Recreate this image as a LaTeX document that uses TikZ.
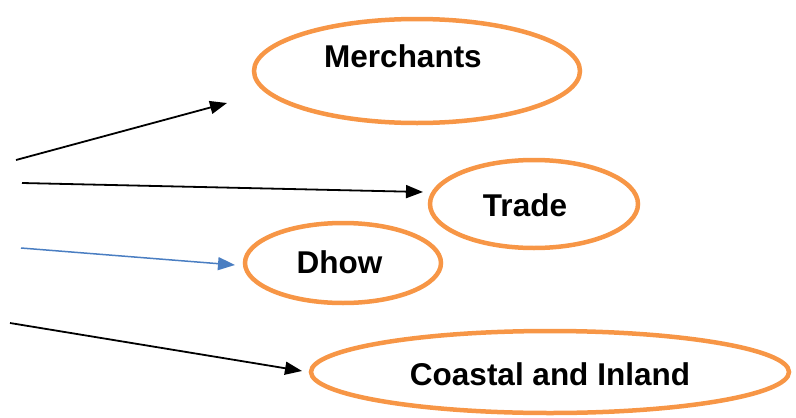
\documentclass[tikz,border=0pt]{standalone}
\usepackage{fontspec}
\setmainfont{Liberation Sans}
\usetikzlibrary{shapes.geometric,arrows.meta}
\definecolor{orng}{HTML}{F79646}
\definecolor{blu}{HTML}{4A7EC2}
\begin{document}
\begin{tikzpicture}[x=1pt,y=-1pt,
  oval/.style={ellipse,draw=orng,line width=4.5pt,inner sep=0pt},
  lbl/.style={font=\fontsize{31.5}{36}\selectfont\bfseries,inner sep=0pt},
  arr/.style={line width=1.8pt,-{Triangle[length=17pt,width=13pt]}},
  barr/.style={line width=1.5pt,draw=blu,-{Triangle[length=17pt,width=13pt,fill=blu]}}]
\useasboundingbox (0,0) rectangle (796,418);
\node[oval,minimum width=326pt,minimum height=104pt] (merch) at (417,71) {};
\node[oval,minimum width=208pt,minimum height=88pt] (trade) at (534,204) {};
\node[oval,minimum width=196pt,minimum height=80pt] (dhow) at (343,263) {};
\node[oval,minimum width=478pt,minimum height=82pt] (coast) at (550,372) {};
\node[lbl] (tmerch) at (403,56) {Merchants};
\node[lbl] (ttrade) at (525,205) {Trade};
\node[lbl] (tdhow) at (339.5,262) {Dhow};
\node[lbl] (tcoast) at (550,374) {Coastal and Inland};
\coordinate (s1) at (16,160);
\coordinate (e1) at (227,103);
\coordinate (s2) at (22,183);
\coordinate (e2) at (423,192);
\coordinate (s3) at (21,248);
\coordinate (e3) at (235,265);
\coordinate (s4) at (10,323);
\coordinate (e4) at (302,371);
\draw[arr] (s1) -- (e1);
\draw[arr] (s2) -- (e2);
\draw[barr] (s3) -- (e3);
\draw[arr] (s4) -- (e4);
\end{tikzpicture}
\end{document}
